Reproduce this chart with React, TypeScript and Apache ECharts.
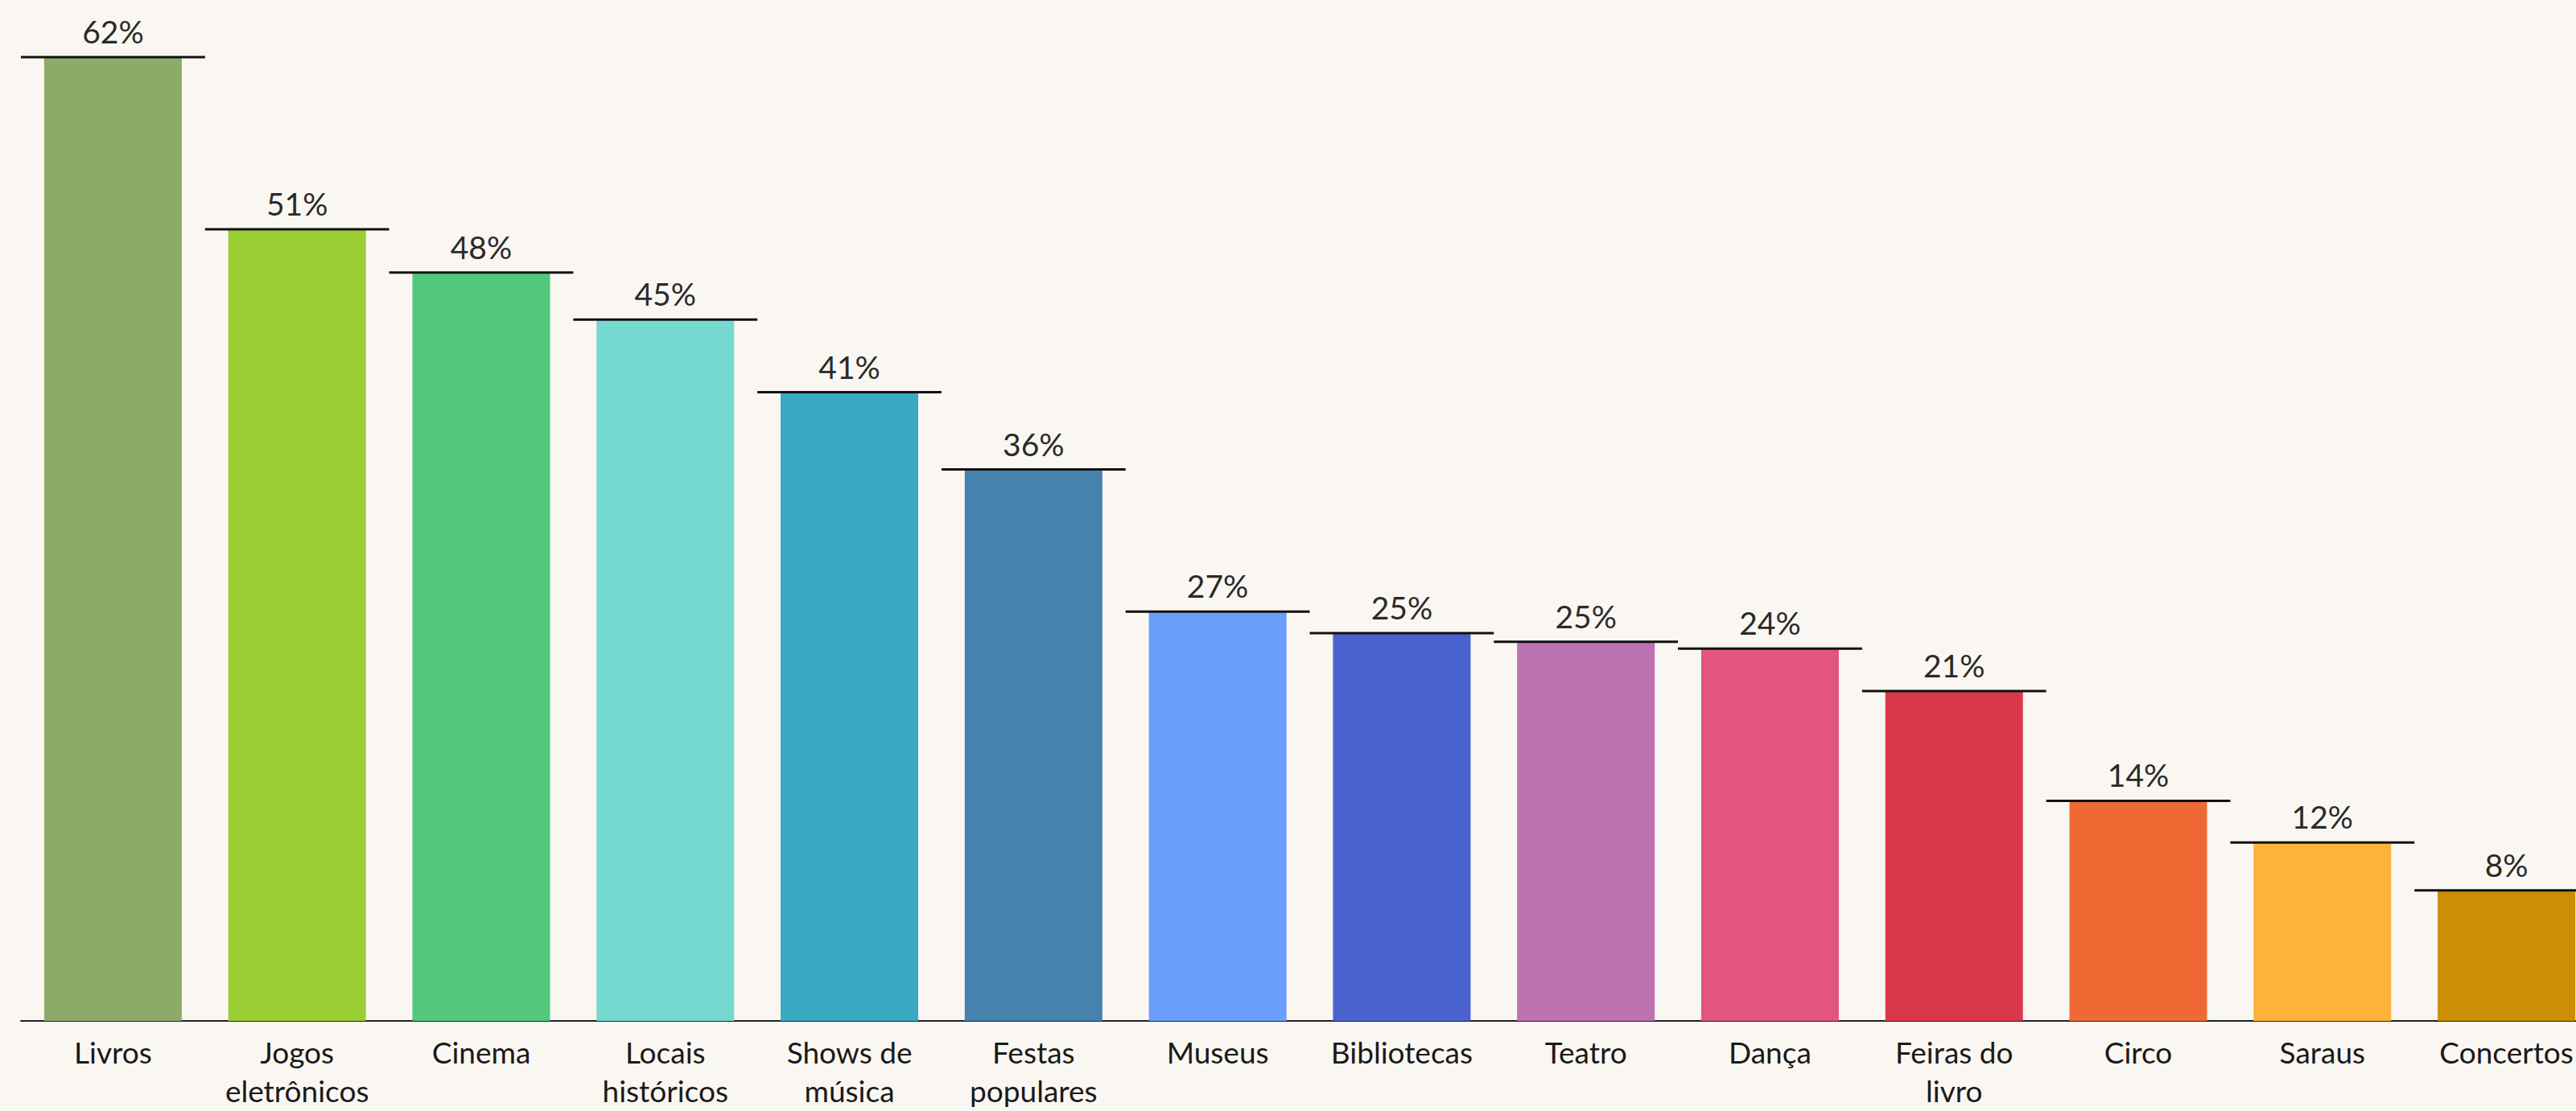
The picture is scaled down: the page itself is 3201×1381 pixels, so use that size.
import React, { useEffect, useRef } from "react";
import * as echarts from "echarts";

const categories = [
  "Livros",
  "Jogos\neletrônicos",
  "Cinema",
  "Locais\nhistóricos",
  "Shows de\nmúsica",
  "Festas\npopulares",
  "Museus",
  "Bibliotecas",
  "Teatro",
  "Dança",
  "Feiras do\nlivro",
  "Circo",
  "Saraus",
  "Concertos",
];

const values = [62.4, 51.25, 48.45, 45.4, 40.7, 35.7, 26.5, 25.1, 24.55, 24.1, 21.35, 14.25, 11.55, 8.45];

const colors = [
  "#8DAB68",
  "#9ACD32",
  "#51C87A",
  "#76D9CF",
  "#3BA8C4",
  "#4682AE",
  "#6A9EFA",
  "#4A62CF",
  "#BD72B2",
  "#E1557E",
  "#D93848",
  "#EF6935",
  "#FFB23A",
  "#CB8F03",
];

const FONT = "Lato, 'Noto Sans', sans-serif";

export default function App() {
  const ref = useRef<HTMLDivElement>(null);
  useEffect(() => {
    if (!ref.current) return;
    const chart = echarts.init(ref.current, null, { renderer: "svg" });
    chart.setOption({
      animation: false,
      backgroundColor: "#FAF7F2",
      grid: {
        left: 26,
        right: -28,
        top: 21,
        bottom: 112,
        containLabel: false,
        outerBoundsMode: "none",
      },
      xAxis: {
        type: "category",
        data: categories,
        axisLine: { show: true, lineStyle: { color: "#222", width: 2 } },
        axisTick: { show: false },
        axisLabel: {
          interval: 0,
          margin: 14,
          color: "#1a1a1a",
          fontFamily: FONT,
          fontSize: 37,
          lineHeight: 48,
        },
      },
      yAxis: {
        type: "value",
        min: 0,
        max: 65,
        show: false,
        splitLine: { show: false },
      },
      series: [
        {
          type: "bar",
          barWidth: 171,
          data: values.map((v, i) => ({ value: v, itemStyle: { color: colors[i] } })),
          z: 3,
        },
        {
          type: "custom",
          z: 5,
          data: values.map((v, i) => [i, v]),
          renderItem: (params: any, api: any) => {
            const idx = api.value(0);
            const val = api.value(1);
            const p = api.coord([idx, val]);
            const w = api.size([1, 0])[0];
            return {
              type: "group",
              children: [
                {
                  type: "line",
                  shape: { x1: p[0] - w / 2, y1: p[1], x2: p[0] + w / 2, y2: p[1] },
                  style: { stroke: "#111", lineWidth: 3 },
                },
                {
                  type: "text",
                  x: p[0],
                  y: p[1] - 32,
                  style: {
                    text: Math.round(val) + "%",
                    align: "center",
                    verticalAlign: "middle",
                    fill: "#2a2a2a",
                    font: `39px ${FONT}`,
                  },
                },
              ],
            };
          },
        },
      ],
    });
    return () => chart.dispose();
  }, []);
  return (
    <div
      ref={ref}
      style={{ position: "fixed", left: 0, top: 0, width: 3201, height: 1381 }}
    />
  );
}
